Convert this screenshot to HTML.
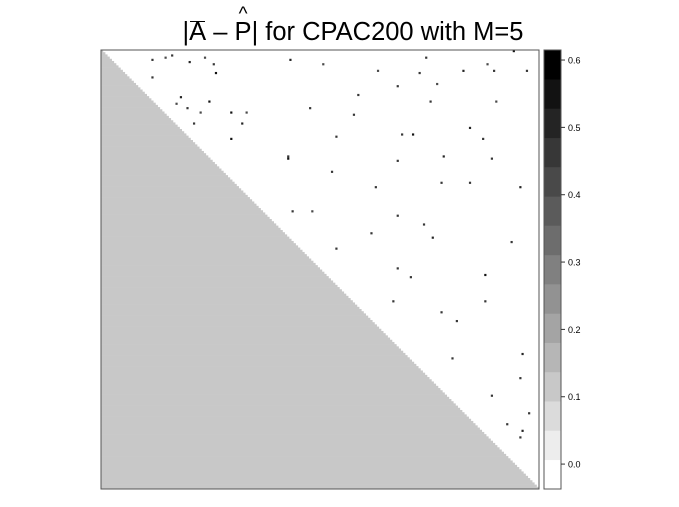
<!DOCTYPE html>
<html><head><meta charset="utf-8"><style>
body{margin:0;background:#fff;width:679px;height:507px;overflow:hidden;font-family:"Liberation Sans",sans-serif}
#title{position:absolute;left:0;width:706px;top:18px;text-align:center;font-size:25.5px;color:#000;white-space:nowrap}
.ov{position:relative;display:inline-block}
.ov .bar{position:absolute;left:1px;right:1px;top:3px;border-top:1.5px solid #000}
.ov .hat{position:absolute;left:0;right:0;top:-14px;text-align:center;font-size:19px}
</style></head><body>
<div id="title">|<span class="ov"><span class="bar"></span>A</span> – <span class="ov"><span class="hat">^</span>P</span>| for CPAC200 with M=5</div>
<svg id="chart" width="679" height="507" style="position:absolute;left:0;top:0"></svg>
<script>
// lower-triangle mean difference per 10-row band
const bandMeans=[0.10,0.11,0.11,0.12,0.11,0.12,0.11,0.12,0.12,0.11,0.12,0.11,0.12,0.11,0.12,0.11,0.12,0.11,0.11,0.11];
// sparse upper-triangle entries: [row, col, value]
const upperCells=[[4,23,0.45],[3,29,0.4],[2,32,0.45],[5,40,0.5],[3,47,0.4],[6,51,0.45],[10,52,0.55],[12,23,0.45],[21,36,0.5],[23,49,0.55],[24,34,0.4],[26,39,0.45],[28,45,0.4],[28,59,0.55],[28,66,0.4],[33,42,0.45],[33,64,0.5],[40,59,0.55],[48,85,0.45],[4,86,0.5],[6,101,0.4],[9,126,0.4],[16,135,0.45],[3,148,0.45],[9,165,0.5],[6,176,0.4],[9,179,0.45],[0,188,0.55],[9,194,0.45],[10,145,0.45],[15,153,0.4],[20,117,0.45],[23,150,0.45],[23,180,0.4],[26,95,0.45],[29,115,0.45],[35,168,0.5],[38,137,0.45],[38,142,0.55],[39,107,0.45],[40,174,0.45],[49,85,0.55],[55,105,0.45],[48,156,0.5],[50,135,0.45],[49,178,0.45],[60,168,0.45],[60,155,0.45],[62,191,0.5],[62,125,0.45],[73,87,0.45],[73,96,0.4],[75,135,0.45],[79,147,0.45],[83,123,0.45],[85,151,0.5],[90,107,0.45],[87,187,0.45],[99,135,0.45],[103,141,0.45],[102,175,0.55],[114,175,0.45],[114,133,0.45],[119,155,0.45],[123,162,0.45],[138,192,0.5],[140,160,0.45],[149,191,0.45],[157,178,0.45],[165,195,0.45],[173,192,0.5],[170,185,0.45],[176,191,0.45]];
const tickValues=[0.0,0.1,0.2,0.3,0.4,0.5,0.6];
const tickLabels=["0.0","0.1","0.2","0.3","0.4","0.5","0.6"];
const N=200, nBands=15, vMin=-0.037, vMax=0.6149;
const px0=101, py0=50, pw=438, ph=439;
const cw=pw/N, ch=ph/N;
const NS="http://www.w3.org/2000/svg";
const svg=document.getElementById('chart');
function mk(t,a){const e=document.createElementNS(NS,t);for(const k in a)e.setAttribute(k,a[k]);svg.appendChild(e);return e;}
function xCol(c){return px0+c*cw;}
function yRow(r){return py0+r*ch;}
function band(v){let i=Math.floor((v-vMin)/(vMax-vMin)*nBands);return Math.max(0,Math.min(nBands-1,i));}
function color(v){const g=Math.round(255*(1-band(v)/(nBands-1)));return `rgb(${g},${g},${g})`;}
const cbY0=50, cbY1=489;
function yScale(v){return cbY1-(v-vMin)/(vMax-vMin)*(cbY1-cbY0);}
for(let r=0;r<N;r++){
  const v=bandMeans[Math.floor(r/10)];
  const e=mk('rect',{x:xCol(0),y:yRow(r),width:(r+1)*cw,height:ch+0.3,fill:color(v)});
  
  
}
upperCells.forEach(d=>{
  const e=mk('rect',{x:xCol(d[1]),y:yRow(d[0]),width:cw,height:ch,fill:color(d[2])});
  
  
});
const fr=mk('rect',{x:px0,y:py0,width:pw,height:ph,fill:'none',stroke:'#555','stroke-width':1});


for(let i=0;i<nBands;i++){
  const lo=vMin+i*(vMax-vMin)/nBands, hi=lo+(vMax-vMin)/nBands;
  const g=Math.round(255*(1-i/(nBands-1)));
  const e=mk('rect',{x:544,y:yScale(hi),width:17,height:yScale(lo)-yScale(hi)+0.3,fill:`rgb(${g},${g},${g})`});
  
  
}
const cb=mk('rect',{x:544,y:cbY0,width:17,height:cbY1-cbY0,fill:'none',stroke:'#555','stroke-width':1});


tickValues.forEach((v,i)=>{
  const y=yScale(v);
  const l=mk('line',{x1:561,x2:565,y1:y,y2:y,stroke:'#333','stroke-width':1});
  
  
  const t=mk('text',{x:568,y:y+3.5,'font-size':9,'font-family':'Liberation Sans, sans-serif',fill:'#000'});
  t.textContent=tickLabels[i];
  
  
});
</script>
</body></html>
